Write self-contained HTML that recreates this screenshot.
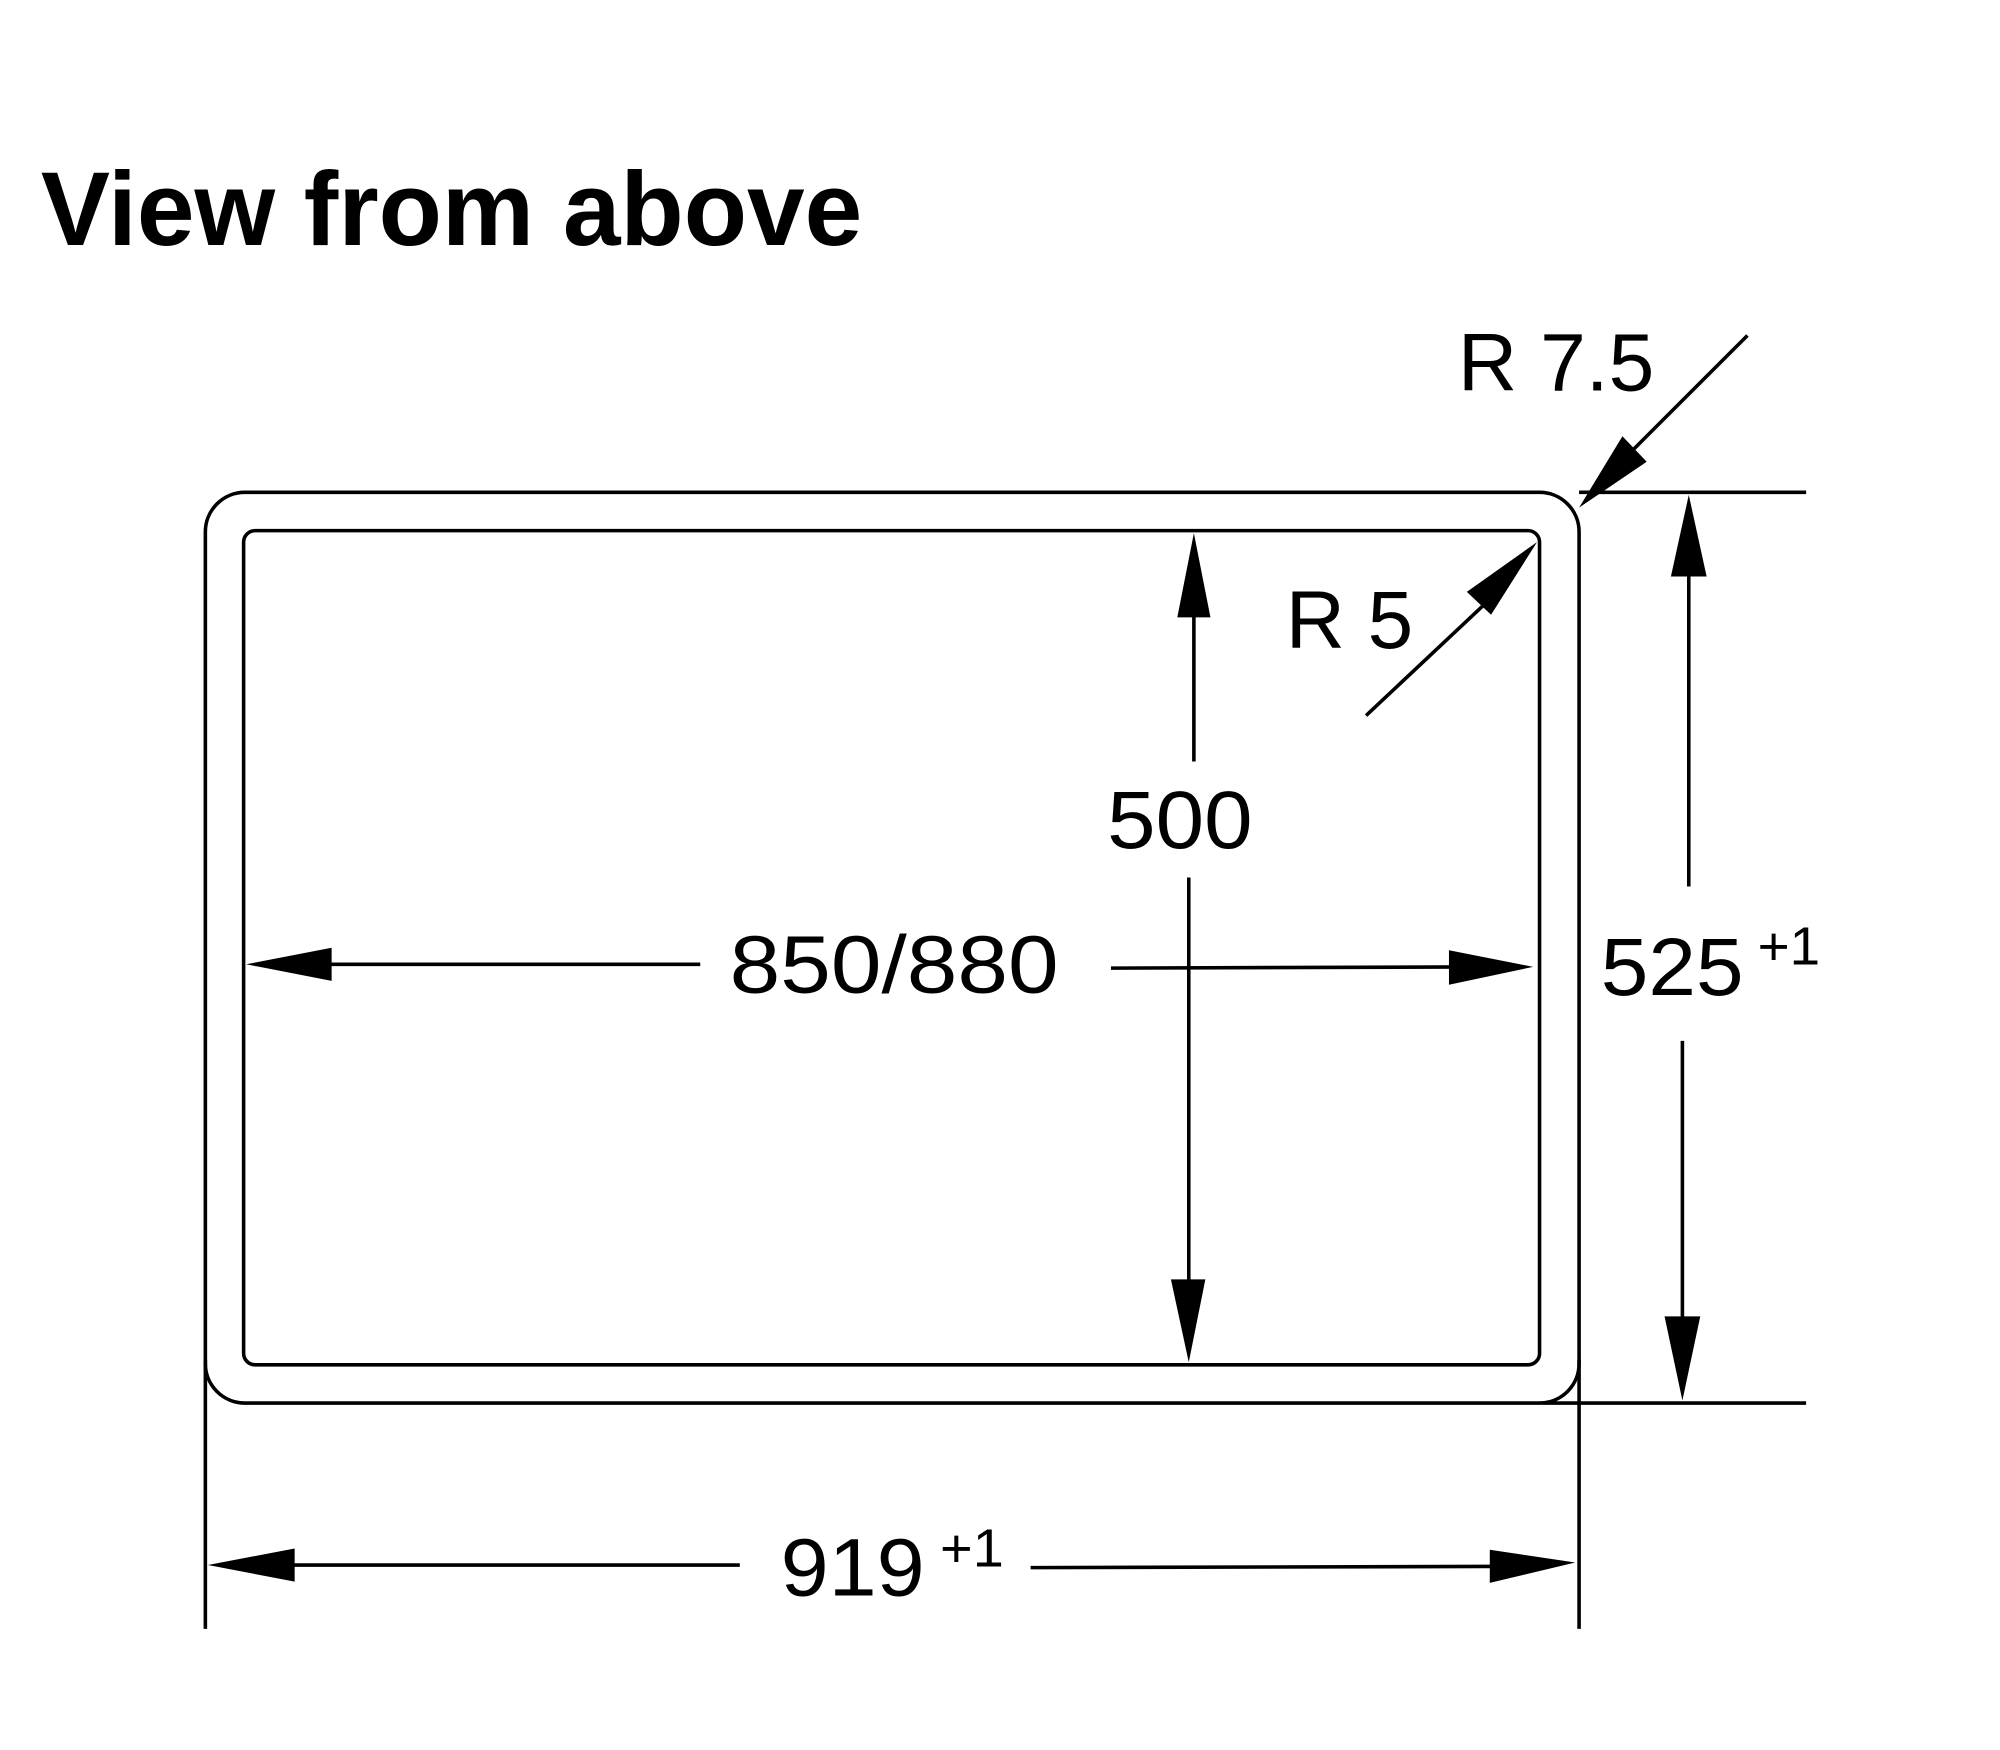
<!DOCTYPE html>
<html><head><meta charset="utf-8"><style>
html,body{margin:0;padding:0;background:#fff;width:2000px;height:1750px;overflow:hidden}
svg{display:block}
text{font-family:"Liberation Sans",Arial,sans-serif;fill:#000}
</style></head><body>
<svg width="2000" height="1750" viewBox="0 0 1568 1372" preserveAspectRatio="none" xmlns="http://www.w3.org/2000/svg">
<text x="32" y="192" font-size="82" font-weight="bold" textLength="644" lengthAdjust="spacingAndGlyphs">View from above</text>
<g fill="none" stroke="#000" stroke-width="2.8">
<rect x="161" y="386" width="1077" height="714" rx="31" ry="31"/>
<rect x="191" y="416" width="1016" height="654" rx="9" ry="9"/>
<line x1="1238" y1="386" x2="1416" y2="386"/>
<line x1="1210" y1="1100" x2="1416" y2="1100"/>
<line x1="161" y1="1066" x2="161" y2="1277"/>
<line x1="1238" y1="1066" x2="1238" y2="1277"/>
<line x1="1324" y1="440" x2="1324" y2="695"/>
<line x1="1319" y1="816" x2="1319" y2="1040"/>
<line x1="175" y1="1227" x2="580" y2="1227"/>
<line x1="808" y1="1229" x2="1200" y2="1228"/>
<line x1="200" y1="756" x2="549" y2="756"/>
<line x1="871" y1="759" x2="1180" y2="758"/>
<line x1="936" y1="430" x2="936" y2="597"/>
<line x1="932" y1="688" x2="932" y2="1010"/>
<line x1="1071" y1="561" x2="1170" y2="468"/>
<line x1="1370" y1="263" x2="1280" y2="353"/>
</g>
<g fill="#000">
<polygon points="1324,388 1310,452 1338,452"/>
<polygon points="1319,1098 1305,1032 1333,1032"/>
<polygon points="163,1227 231,1214 231,1240"/>
<polygon points="1235,1225 1168,1215 1168,1241"/>
<polygon points="193,756 260,743 260,769"/>
<polygon points="1202,758 1136,745 1136,772"/>
<polygon points="936,418 923,484 949,484"/>
<polygon points="932,1068 918,1003 945,1003"/>
<polygon points="1205,425 1150,464 1169,482"/>
<polygon points="1238,398 1272,342 1291,362"/>
</g>
<text x="1143" y="306" font-size="64" textLength="154" lengthAdjust="spacingAndGlyphs">R 7.5</text>
<text x="1008" y="508" font-size="64" textLength="100" lengthAdjust="spacingAndGlyphs">R 5</text>
<text x="868" y="665" font-size="64" textLength="114" lengthAdjust="spacingAndGlyphs">500</text>
<text x="572" y="778" font-size="64" textLength="258" lengthAdjust="spacingAndGlyphs">850/880</text>
<text x="1255" y="780" font-size="64" textLength="112" lengthAdjust="spacingAndGlyphs">525</text>
<text x="1378" y="756" font-size="42" textLength="49" lengthAdjust="spacingAndGlyphs">+1</text>
<text x="612" y="1251" font-size="64" textLength="113" lengthAdjust="spacingAndGlyphs">919</text>
<text x="737" y="1228" font-size="42" textLength="50" lengthAdjust="spacingAndGlyphs">+1</text>
</svg>
</body></html>
